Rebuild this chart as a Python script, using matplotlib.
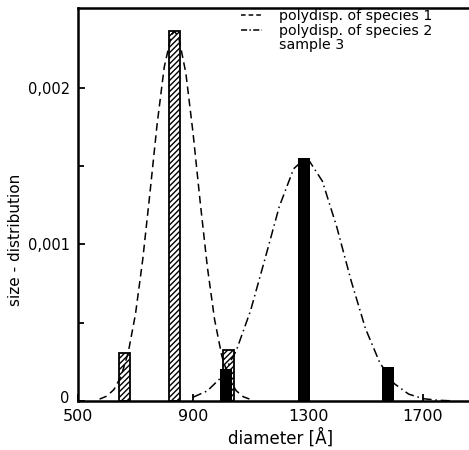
import matplotlib
matplotlib.use("Agg")
from matplotlib import pyplot as plt
from matplotlib import ticker
from matplotlib import transforms
from matplotlib.lines import Line2D

FIGSIZE = (469, 450)
DPI = 100

# sample 3: measured fractions
hatch_x = [662, 836, 1025]
hatch_y = [0.000306, 0.00236, 0.000325]
black_x = [1015, 1286, 1578]
black_y = [0.000204, 0.00155, 0.000217]

# polydispersity of species 1 (dashed)
sp1_x = [575, 600, 625, 650, 675, 700, 725, 750, 775, 800, 825, 836, 850,
         875, 900, 925, 950, 975, 1000, 1025, 1050, 1075, 1100]
sp1_y = [0.000012, 0.000031, 0.000073, 0.000158, 0.000312, 0.000556, 0.000901,
         0.001324, 0.001765, 0.002133, 0.002338, 0.00236, 0.002324, 0.002096,
         0.001714, 0.001271, 0.000855, 0.000521, 0.000289, 0.000145, 0.000066,
         0.000027, 0.000010]

# polydispersity of species 2 (dash-dot)
sp2_x = [900, 950, 1000, 1050, 1100, 1150, 1200, 1250, 1290, 1300, 1350, 1400,
         1450, 1500, 1550, 1600, 1650, 1700, 1750, 1800]
sp2_y = [0.000024, 0.000065, 0.000154, 0.000319, 0.000576, 0.000905, 0.001241,
         0.001483, 0.00155, 0.001546, 0.001404, 0.001112, 0.000768, 0.000462,
         0.000243, 0.000111, 0.000044, 0.000015, 0.000005, 0.000001]

x_ticks = [500, 900, 1300, 1700]
y_ticks = [0, 0.001, 0.002]
y_tick_labels = ["0", "0,001", "0,002"]

plt.rcParams["font.family"] = ["DejaVu Sans"]
plt.rcParams["hatch.linewidth"] = 1.0

fig = plt.figure(figsize=(FIGSIZE[0]/DPI, FIGSIZE[1]/DPI), dpi=DPI)
ax = fig.add_axes([78/469, 1 - 401/450, 1 - 78/469, (401 - 8)/450])

ax.bar(hatch_x, hatch_y, width=38, facecolor="white", edgecolor="black",
       hatch="//////", linewidth=1.3, zorder=2)
ax.bar(black_x, black_y, width=40, color="black", zorder=3)

ax.plot(sp1_x, sp1_y, color="black", lw=1.1, ls=(0, (5, 3)), zorder=4)
ax.plot(sp2_x, sp2_y, color="black", lw=1.1, ls=(0, (6, 2.5, 1, 2.5)), zorder=4)

ax.set_xlim(500, 1860)
ax.set_ylim(0, 0.00251)
ax.set_xticks(x_ticks)
ax.set_yticks(y_ticks)
ax.set_yticklabels(y_tick_labels)
ax.yaxis.set_minor_locator(ticker.FixedLocator([0.0005, 0.0015]))
ax.tick_params(axis="both", which="both", direction="in")
ax.tick_params(axis="both", which="major", length=5, width=1.3)
ax.tick_params(axis="y", which="minor", length=4, width=1.3)
ax.tick_params(axis="x", labelsize=11.5, pad=6)
ax.tick_params(axis="y", labelsize=10.5, pad=6)

# lift the "0" a little so it clears the "500" below it
zero = ax.get_yticklabels()[0]
zero.set_transform(zero.get_transform() +
                   transforms.ScaledTranslation(0, 4/DPI, fig.dpi_scale_trans))

ax.spines["right"].set_visible(False)
for side in ["left", "bottom", "top"]:
    ax.spines[side].set_linewidth(1.8)

ax.set_xlabel("diameter [Å]", fontsize=12)
ax.xaxis.set_label_coords((281 - 78)/391, -(428 - 401)/393)
ax.set_ylabel("size - distribution", fontsize=11)
ax.yaxis.set_label_coords((23 - 78)/391, 1 - (240 - 8)/393)

handles = [
    Line2D([], [], color="black", lw=1.1, ls=(0, (3, 2))),
    Line2D([], [], color="black", lw=1.1, ls=(0, (4, 1.5, 1, 1.5))),
    Line2D([], [], color="none"),
]
labels = ["polydisp. of species 1", "polydisp. of species 2", "sample 3"]
ax.legend(handles, labels, loc="upper right", frameon=False, fontsize=10.2,
          handlelength=1.45, handletextpad=1.2, labelspacing=0.05,
          borderaxespad=0, bbox_to_anchor=(0.92, 1.012))

plt.savefig("out.png", dpi=DPI)
